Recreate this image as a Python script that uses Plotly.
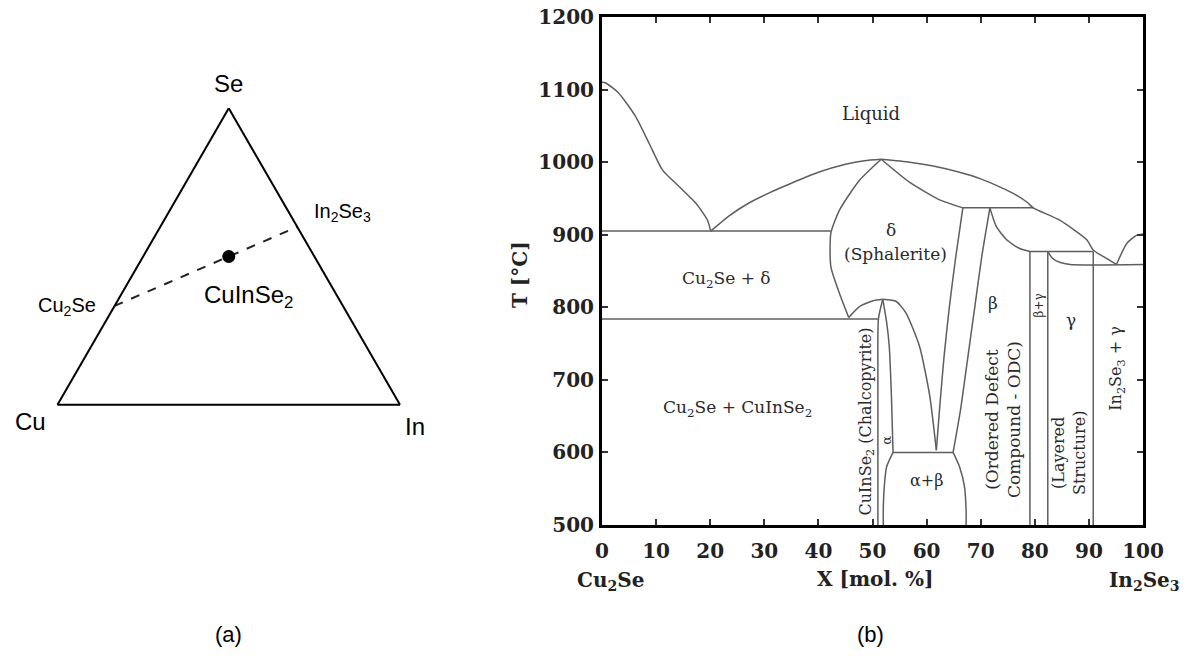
import plotly.graph_objects as go

# ---------------- (a) ternary composition data ----------------
tern_names = ["Cu2Se", "In2Se3", "CuInSe2"]
tern_Se = [1/3, 0.6, 0.5]
tern_Cu = [2/3, 0.0, 0.25]
tern_In = [0.0, 0.4, 0.25]

# ---------------- (b) phase diagram data ----------------
x_ticks = [0, 10, 20, 30, 40, 50, 60, 70, 80, 90, 100]
T_ticks = [500, 600, 700, 800, 900, 1000, 1100, 1200]

liq_left_x = [0, 0.7, 3.1, 6.2, 8.7, 11.2, 14.3, 17.4, 19.5, 20.1]
liq_left_T = [1110, 1109, 1095, 1063, 1026, 989, 966, 943, 920, 905]

liq_mid_x = [20.1, 23.5, 27.0, 31.0, 35.0, 40.0, 45.0, 48.5, 51.6]
liq_mid_T = [905, 926, 943, 958, 971, 986, 997, 1002, 1004]

liq_right_x = [51.6, 56.9, 61.0, 66.1, 70.0, 73.5, 76.5, 78.7, 79.7, 84.6, 89.6, 90.8, 93.3, 95.1]
liq_right_T = [1004, 1000, 995, 986, 977, 966, 955, 944, 937, 920, 893, 879, 867, 859]

dome_right_x = [95.1, 97.0, 98.8, 100]
dome_right_T = [859, 888, 899, 901]

delta_left_x = [51.6, 47.6, 43.9, 42.3, 42.3, 43.9, 45.6]
delta_left_T = [1004, 975, 934, 902, 856, 819, 786]

delta_right_x = [51.6, 56.9, 62.4, 66.7]
delta_right_T = [1004, 972, 948, 937]

eut_905_x = [0, 42.3]
eut_905_T = [905, 905]

eut_784_x = [0, 51.0]
eut_784_T = [784, 784]

alpha_dome_left_x = [45.6, 47.6, 50.1, 51.9]
alpha_dome_left_T = [786, 801, 809, 811]

alpha_dome_right_x = [51.9, 54.4, 56.2, 58.7, 60.6, 61.8]
alpha_dome_right_T = [811, 808, 792, 746, 677, 603]

alpha_left_x = [51.9, 51.1, 51.0, 51.0]
alpha_left_T = [811, 784, 700, 500]

alpha_right_x = [51.9, 52.6, 53.1, 53.5, 53.8]
alpha_right_T = [811, 780, 746, 677, 600]

ab_top_x = [53.8, 64.9]
ab_top_T = [600, 600]

ab_left_x = [53.8, 52.6, 52.2, 52.0, 52.0]
ab_left_T = [600, 580, 555, 525, 500]

ab_right_x = [64.9, 66.1, 67.0, 67.3, 67.3]
ab_right_T = [600, 580, 553, 520, 500]

beta_left_x = [66.7, 65.4, 64.2, 63.2, 62.4, 61.8]
beta_left_T = [937, 870, 800, 730, 660, 603]

beta_right_x = [71.7, 70.2, 68.9, 67.6, 66.3, 64.9]
beta_right_T = [937, 870, 800, 730, 660, 600]

h937_x = [66.7, 79.7]
h937_T = [937, 937]

beta_liq_x = [71.7, 72.9, 74.8, 77.2, 79.1]
beta_liq_T = [937, 911, 893, 881, 877]

h877_x = [79.1, 90.8]
h877_T = [877, 877]

v79_x = [79.1, 79.1]
v79_T = [877, 500]

v82_x = [82.4, 82.4]
v82_T = [877, 500]

v91_x = [90.8, 90.8]
v91_T = [877, 500]

gamma_top_x = [82.4, 83.2, 84.6, 86.5, 100]
gamma_top_T = [877, 868, 862, 859, 859]

boundaries = [
    (liq_left_x, liq_left_T), (liq_mid_x, liq_mid_T), (liq_right_x, liq_right_T),
    (dome_right_x, dome_right_T), (delta_left_x, delta_left_T), (delta_right_x, delta_right_T),
    (eut_905_x, eut_905_T), (eut_784_x, eut_784_T),
    (alpha_dome_left_x, alpha_dome_left_T), (alpha_dome_right_x, alpha_dome_right_T),
    (alpha_left_x, alpha_left_T), (alpha_right_x, alpha_right_T),
    (ab_top_x, ab_top_T), (ab_left_x, ab_left_T), (ab_right_x, ab_right_T),
    (beta_left_x, beta_left_T), (beta_right_x, beta_right_T), (h937_x, h937_T),
    (beta_liq_x, beta_liq_T), (h877_x, h877_T), (v79_x, v79_T), (v82_x, v82_T),
    (v91_x, v91_T), (gamma_top_x, gamma_top_T),
]

# region labels: (x, T, text, angle, size)
region_labels = [
    (49.7, 1067, "Liquid", 0, 18),
    (53.5, 906, "δ", 0, 17),
    (54.2, 874, "(Sphalerite)", 0, 17),
    (23.0, 838, "Cu<sub>2</sub>Se + δ", 0, 17),
    (25.0, 661, "Cu<sub>2</sub>Se + CuInSe<sub>2</sub>", 0, 17),
    (48.9, 642, "CuInSe<sub>2</sub> (Chalcopyrite)", -90, 16),
    (52.6, 617, "α", -90, 13),
    (60.0, 562, "α+β", 0, 16),
    (72.3, 806, "β", 0, 17),
    (74.0, 645, "(Ordered Defect<br>Compound - ODC)", -90, 17),
    (80.7, 802, "β+γ", -90, 12),
    (86.6, 782, "γ", 0, 17),
    (86.3, 599, "(Layered<br>Structure)", -90, 16),
    (95.1, 716, "In<sub>2</sub>Se<sub>3</sub> + γ", -90, 16),
]

SERIF = "DejaVu Serif"
SANS = "Liberation Sans"
LINE_COL = "#5e5e5e"

fig = go.Figure()

# ---- (a) ternary ----
fig.add_trace(go.Scatterternary(
    a=[tern_Se[0], tern_Se[1]], b=[tern_Cu[0], tern_Cu[1]], c=[tern_In[0], tern_In[1]],
    mode="lines", line=dict(color="#222222", width=2, dash="dash"),
    showlegend=False, hoverinfo="skip", cliponaxis=False,
))
fig.add_trace(go.Scatterternary(
    a=[tern_Se[2]], b=[tern_Cu[2]], c=[tern_In[2]],
    mode="markers", marker=dict(color="black", size=13),
    showlegend=False, hoverinfo="skip",
))

# ---- (b) phase diagram ----
for bx, bt in boundaries:
    fig.add_trace(go.Scatter(
        x=bx, y=bt, mode="lines",
        line=dict(color=LINE_COL, width=1.5, shape="spline", smoothing=0.6),
        showlegend=False, hoverinfo="skip", cliponaxis=False,
    ))

annotations = []
for lx, lt, txt, ang, sz in region_labels:
    annotations.append(dict(
        x=lx, y=lt, xref="x", yref="y", text=txt, showarrow=False, textangle=ang,
        xanchor="center", yanchor="middle",
        font=dict(family=SERIF, size=sz, color="#2a2a2a"),
    ))


def pap(px, py):
    return px / 1190, 1 - py / 660


sans_labels = [
    (228, 84, "Se", 24),
    (30, 421, "Cu", 24),
    (415, 426, "In", 24),
    (67, 307, "Cu<sub>2</sub>Se", 20),
    (343, 212, "In<sub>2</sub>Se<sub>3</sub>", 20),
    (248, 297, "CuInSe<sub>2</sub>", 24),
    (228, 634, "(a)", 22),
    (870, 634, "(b)", 22),
]
for px, py, txt, sz in sans_labels:
    xx, yy = pap(px, py)
    annotations.append(dict(x=xx, y=yy, xref="paper", yref="paper", text=txt, showarrow=False,
                            xanchor="center", yanchor="middle",
                            font=dict(family=SANS, size=sz, color="black")))

serif_labels = [
    (520, 275, "T [°C]", -90),
    (875, 579, "X [mol. %]", 0),
    (610, 581, "Cu<sub>2</sub>Se", 0),
    (1144, 581, "In<sub>2</sub>Se<sub>3</sub>", 0),
]
for px, py, txt, ang in serif_labels:
    xx, yy = pap(px, py)
    annotations.append(dict(x=xx, y=yy, xref="paper", yref="paper", text=txt, showarrow=False,
                            textangle=ang, xanchor="center", yanchor="middle",
                            font=dict(family=SERIF, size=20, color="#222222", weight="bold")))

tern_axis = dict(showline=True, linecolor="black", linewidth=2, showticklabels=False,
                 ticks="", showgrid=False, title=dict(text=""))

frame_axis = dict(showline=True, linecolor="black", linewidth=3, mirror="ticks",
                  ticks="inside", ticklen=6, tickwidth=1.5, tickcolor="#333333",
                  showgrid=False, zeroline=False,
                  tickfont=dict(family=SERIF, size=20, color="#222222", weight="bold"))

fig.update_layout(
    width=1190, height=660, autosize=False,
    margin=dict(l=0, r=0, t=0, b=0, pad=0, autoexpand=False),
    paper_bgcolor="white", plot_bgcolor="white",
    showlegend=False,
    ternary=dict(
        domain=dict(x=[57.5 / 1190, 400 / 1190], y=[1 - 405 / 660, 1 - 108 / 660]),
        sum=1, bgcolor="white",
        aaxis=tern_axis, baxis=tern_axis, caxis=tern_axis,
    ),
    xaxis=dict(frame_axis, domain=[602 / 1190, 1143 / 1190], range=[0, 100],
               tickvals=x_ticks, ticklabelstandoff=6),
    yaxis=dict(frame_axis, domain=[1 - 525 / 660, 1 - 17 / 660], range=[500, 1200],
               tickvals=T_ticks, ticklabelstandoff=1),
    annotations=annotations,
)

fig.write_html("out.html")
